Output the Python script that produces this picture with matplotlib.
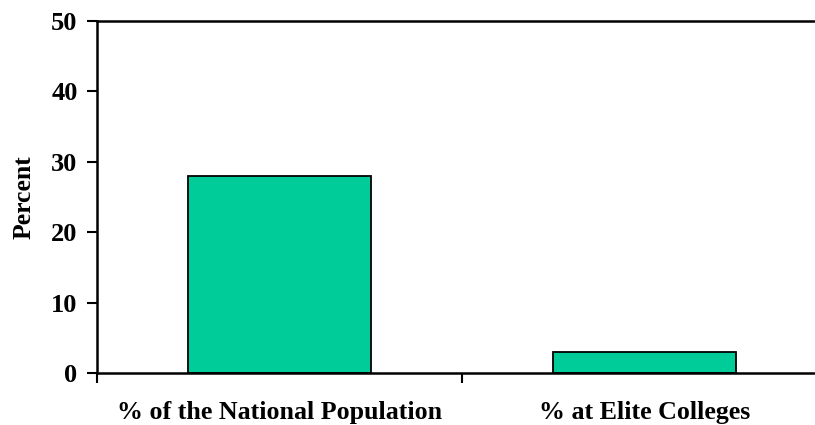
import matplotlib.pyplot as plt
from matplotlib.ticker import FixedLocator

# data
categories = ["% of the National Population", "% at Elite Colleges"]
percents = [28, 3]
yticks = [0, 10, 20, 30, 40, 50]

plt.rcParams['font.family'] = 'Liberation Serif'
plt.rcParams['font.weight'] = 'bold'

fig = plt.figure(figsize=(8.15, 4.25), dpi=100)
ax = fig.add_axes([97 / 815, 52 / 425, 730 / 815, 352 / 425])

x = [i + 0.5 for i in range(len(categories))]
ax.bar(x, percents, width=0.5, color='#00CC99', edgecolor='black', linewidth=1.3)

ax.set_xlim(0, len(categories))
ax.set_ylim(0, 50)
ax.set_yticks(yticks)
ax.set_yticklabels([str(t) for t in yticks], fontsize=19, fontweight='bold')
ax.set_xticks(x)
ax.set_xticklabels(categories, fontsize=18.7, fontweight='bold')
ax.xaxis.set_minor_locator(FixedLocator(range(len(categories) + 1)))

ax.tick_params(axis='y', direction='out', length=7, width=1.5, pad=7)
ax.tick_params(axis='x', which='major', length=0, pad=20)
ax.tick_params(axis='x', which='minor', direction='out', length=7, width=1.5)
for s in ax.spines.values():
    s.set_linewidth(1.8)

ax.set_ylabel("Percent", fontsize=18.5, fontweight='bold', labelpad=11)

plt.savefig("out.png", dpi=100)
